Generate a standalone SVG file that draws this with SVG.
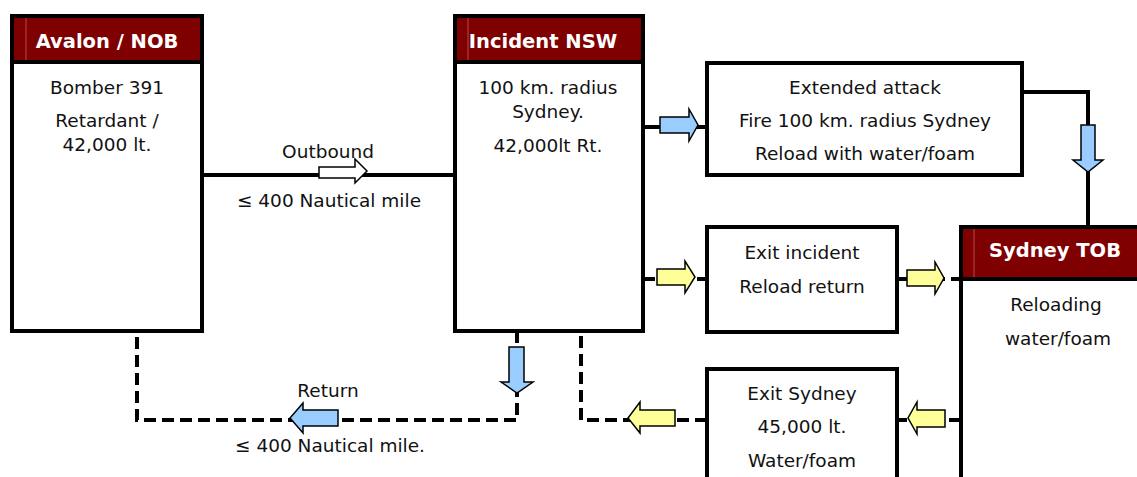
<svg xmlns="http://www.w3.org/2000/svg" width="1137" height="477" viewBox="0 0 1137 477">
<style>
.box{fill:#fff;stroke:#000;stroke-width:4}
.hdr{fill:#7f0000}
.div{stroke:#000;stroke-width:4}
.sep{stroke:#b44a4a;stroke-width:1}
.ht{font-family:"DejaVu Sans",Verdana,sans-serif;font-weight:bold;font-size:19.5px;fill:#fff;text-anchor:middle}
.t{font-family:"DejaVu Sans",Verdana,sans-serif;font-size:18.5px;fill:#111;text-anchor:middle}
.ln{fill:none;stroke:#000;stroke-width:4}
.dash{fill:none;stroke:#000;stroke-width:4;stroke-dasharray:12 6}
.blue{fill:#99ccff;stroke:#000;stroke-width:1.5;stroke-linejoin:miter}
.yel{fill:#ffff99;stroke:#000;stroke-width:1.5}
.wht{fill:#fff;stroke:#000;stroke-width:1.5}
</style>
<rect width="1137" height="477" fill="#fff"/>
<g id="connectors">
  <path class="ln" d="M202,175 H455"/>
  <path class="ln" d="M643,127 H707"/>
  <path class="ln" d="M1022,92 H1088 V227"/>
  <path class="dash" d="M643,279 H707"/>
  <path class="dash" d="M897,279 H961"/>
  <path class="dash" d="M961,420 H897"/>
  <path class="dash" d="M707,420 H581 V331"/>
  <path class="dash" d="M517,331 V420 H137 V331"/>
  <polygon class="wht" points="319,167 355,167 355,159 367,171 355,183 355,178 319,178"/>
  <polygon class="blue" points="660,117 689,117 689,109 698,125 689,141 689,133 660,133"/>
  <polygon class="blue" points="1081,125 1095,125 1095,160 1103,160 1088,172 1073,160 1081,160"/>
  <polygon class="blue" points="509,347 524,347 524,382 533,382 517,393 501,382 509,382"/>
  <polygon class="blue" points="338,410 338,426 303,426 303,433 290,418 303,403 303,410"/>
  <polygon class="yel" points="657,269 685,269 685,261 695,277 685,293 685,285 657,285"/>
  <polygon class="yel" points="907,270 935,270 935,262 944,278 935,294 935,286 907,286"/>
  <polygon class="yel" points="945,410 945,427 917,427 917,434 908,418 917,402 917,410"/>
  <polygon class="yel" points="675,410 675,426 640,426 640,433 628,418 640,402 640,410"/>
</g>
<g id="avalon">
  <rect class="box" x="12" y="16" width="190" height="315"/>
  <rect class="hdr" x="14" y="18" width="186" height="43"/>
  <line class="sep" x1="26" y1="18" x2="26" y2="60"/>
  <line class="div" x1="12" y1="62" x2="202" y2="62"/>
  <text class="ht" x="107" y="48">Avalon / NOB</text>
  <text class="t" x="107" y="94">Bomber 391</text>
  <text class="t" x="107" y="127">Retardant /</text>
  <text class="t" x="107" y="151">42,000 lt.</text>
</g>
<g id="incident">
  <rect class="box" x="455" y="16" width="188" height="315"/>
  <rect class="hdr" x="457" y="18" width="184" height="43"/>
  <line class="sep" x1="468" y1="18" x2="468" y2="60"/>
  <line class="div" x1="455" y1="62" x2="643" y2="62"/>
  <text class="ht" x="543" y="48">Incident NSW</text>
  <text class="t" x="548" y="94">100 km. radius</text>
  <text class="t" x="548" y="118">Sydney.</text>
  <text class="t" x="548" y="152">42,000lt Rt.</text>
</g>
<g id="extended">
  <rect class="box" x="707" y="63" width="315" height="112"/>
  <text class="t" x="865" y="94">Extended attack</text>
  <text class="t" x="865" y="127">Fire 100 km. radius Sydney</text>
  <text class="t" x="865" y="160">Reload with water/foam</text>
</g>
<g id="exit-incident">
  <rect class="box" x="707" y="227" width="190" height="105"/>
  <text class="t" x="802" y="259">Exit incident</text>
  <text class="t" x="802" y="293">Reload return</text>
</g>
<g id="sydney-tob">
  <rect class="box" x="961" y="227" width="300" height="300"/>
  <rect class="hdr" x="963" y="229" width="176" height="49"/>
  <line class="sep" x1="974" y1="229" x2="974" y2="277"/>
  <line class="div" x1="961" y1="279" x2="1137" y2="279"/>
  <text class="ht" x="1055" y="257">Sydney TOB</text>
  <text class="t" x="1056" y="311">Reloading</text>
  <text class="t" x="1058" y="345">water/foam</text>
</g>
<g id="exit-sydney">
  <rect class="box" x="707" y="369" width="190" height="150"/>
  <text class="t" x="802" y="400">Exit Sydney</text>
  <text class="t" x="802" y="433">45,000 lt.</text>
  <text class="t" x="802" y="467">Water/foam</text>
</g>
<g id="labels">
  <text class="t" x="328" y="158">Outbound</text>
  <text class="t" x="329" y="207">≤ 400 Nautical mile</text>
  <text class="t" x="328" y="397">Return</text>
  <text class="t" x="330" y="452">≤ 400 Nautical mile.</text>
</g>
</svg>
